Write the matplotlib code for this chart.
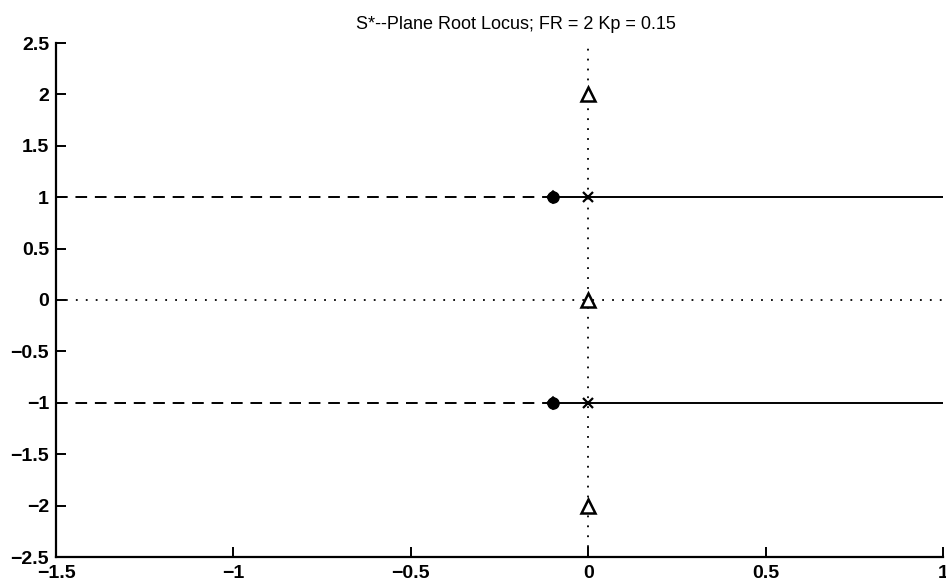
import matplotlib
matplotlib.use("Agg")
import matplotlib.pyplot as plt

# Data
branch_y = [1.0, -1.0]
dash_x = [-1.5, -0.1]
solid_x = [-0.1, 1.0]
circle_x = [-0.1, -0.1]
circle_y = [1.0, -1.0]
cross_x = [0.0, 0.0]
cross_y = [1.0, -1.0]
tri_x = [0.0, 0.0, 0.0]
tri_y = [2.0, 0.0, -2.0]
xlim = [-1.5, 1.0]
ylim = [-2.5, 2.5]
xticks = [-1.5, -1, -0.5, 0, 0.5, 1]
xticklabels = ["\u22121.5", "\u22121", "\u22120.5", "0", "0.5", "1"]
yticks = [-2.5, -2, -1.5, -1, -0.5, 0, 0.5, 1, 1.5, 2, 2.5]
yticklabels = ["\u22122.5", "\u22122", "\u22121.5", "\u22121", "\u22120.5", "0", "0.5", "1", "1.5", "2", "2.5"]
title = "S*--Plane Root Locus; FR = 2 Kp = 0.15"

plt.rcParams['font.family'] = ['Liberation Sans', 'DejaVu Sans']

fig = plt.figure(figsize=(9.46, 5.88), dpi=100)
# axes box: left 56px, right 943px, top 43px, bottom 557px
ax = fig.add_axes([56/946, (588-557)/588, (943-56)/946, (557-43)/588])

ax.axvline(0, color='black', linestyle=(0, (1, 4.5)), linewidth=1.3)
ax.axhline(0, color='black', linestyle=(0, (1, 4.5)), linewidth=1.3)
for yv in branch_y:
    ax.plot(dash_x, [yv, yv], color='black', linestyle=(0, (6, 4)), linewidth=1.4)
    ax.plot(solid_x, [yv, yv], color='black', linestyle='-', linewidth=1.4)
ax.plot(circle_x, circle_y, 'o', markersize=8, markerfacecolor='black',
        markeredgecolor='black', markeredgewidth=1.0, linestyle='none')
ax.plot(circle_x, circle_y, 'D', markersize=6, markerfacecolor='none',
        markeredgecolor='black', markeredgewidth=1.2, linestyle='none')
ax.plot(cross_x, cross_y, 'x', markersize=6.5, color='black', markeredgewidth=1.6, linestyle='none')
ax.plot(tri_x, tri_y, '^', markersize=9.5, markerfacecolor='white',
        markeredgecolor='black', markeredgewidth=1.8, linestyle='none')

ax.set_xlim(xlim)
ax.set_ylim(ylim)
ax.set_xticks(xticks)
ax.set_xticklabels(xticklabels)
ax.set_yticks(yticks)
ax.set_yticklabels(yticklabels)
ax.spines['top'].set_visible(False)
ax.spines['right'].set_visible(False)
ax.spines['left'].set_linewidth(1.6)
ax.spines['bottom'].set_linewidth(1.6)
ax.tick_params(direction='in', length=7, width=1.4, labelsize=14)
ax.tick_params(axis='x', pad=5.5)
ax.tick_params(axis='y', pad=5)
for lbl in ax.get_xticklabels() + ax.get_yticklabels():
    lbl.set_fontweight('bold')
ax.set_title(title, fontsize=13, pad=10, x=0.518)

fig.savefig("out.png", dpi=100)
